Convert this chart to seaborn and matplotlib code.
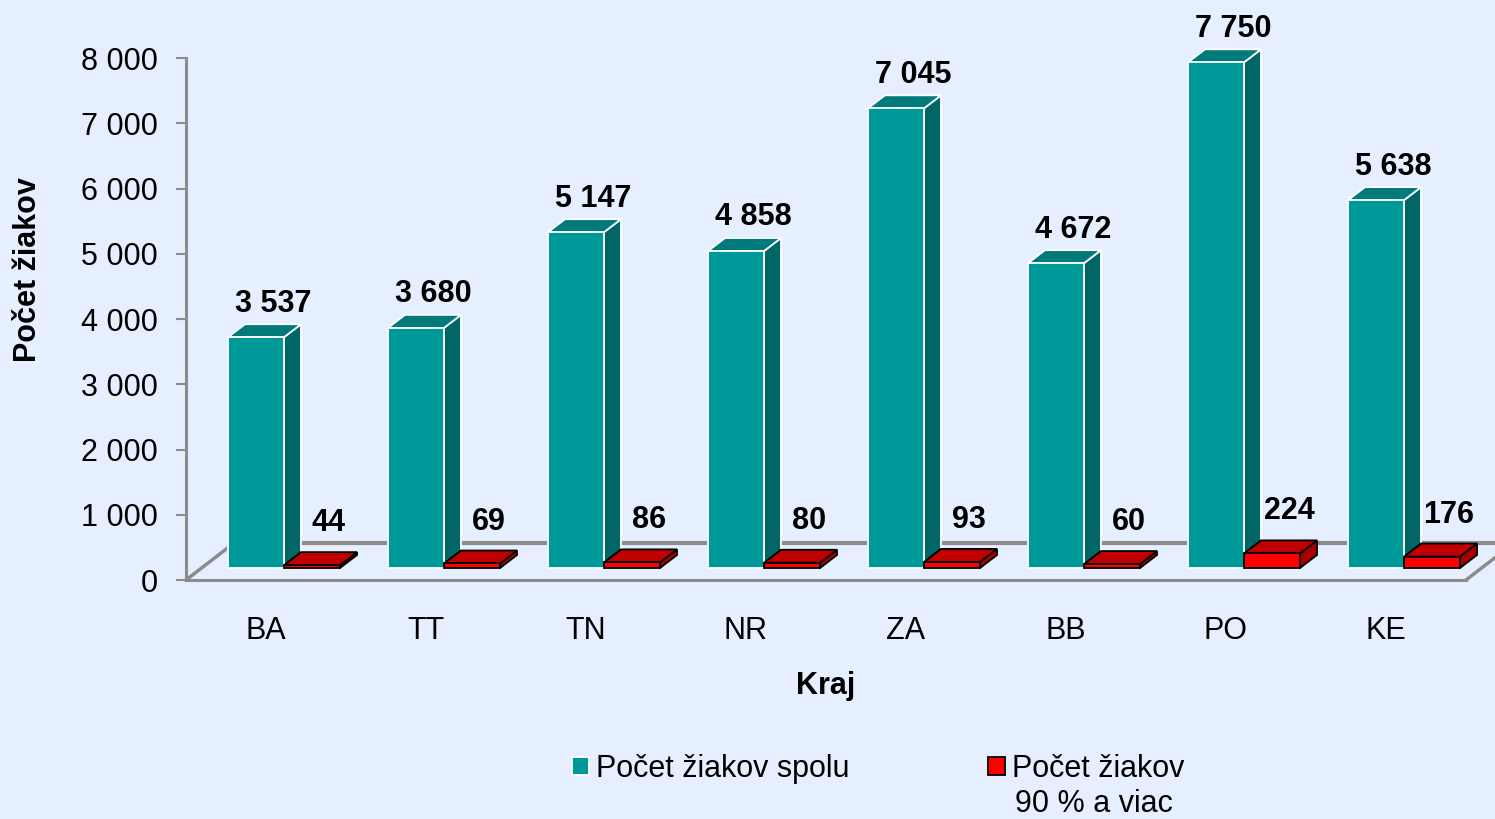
import numpy as np
import pandas as pd
import matplotlib.pyplot as plt
import seaborn as sns
from matplotlib.patches import Polygon, Patch
from matplotlib.transforms import ScaledTranslation
from matplotlib.ticker import FuncFormatter, MultipleLocator

# Údaje
kraje = ["BA", "TT", "TN", "NR", "ZA", "BB", "PO", "KE"]
spolu = [3537, 3680, 5147, 4858, 7045, 4672, 7750, 5638]
viac90 = [44, 69, 86, 80, 93, 60, 224, 176]
serie = ["Počet žiakov spolu", "Počet žiakov\n90 % a viac"]

df = pd.DataFrame({
    "Kraj": kraje * 2,
    "Pocet": spolu + viac90,
    "Seria": [serie[0]] * len(kraje) + [serie[1]] * len(kraje),
})

BG = "#E6EFFF"
GRAY = "#8C8C8C"
front = ["#009999", "#FF0000"]
top = ["#007A7A", "#C00000"]
side = ["#006666", "#A80000"]
edge = ["white", "black"]
FS = 22


def fmt(v, pos=None):
    return f"{int(v):,}".replace(",", " ")


sns.set_theme(style="white")
plt.rcParams["font.family"] = ["Liberation Sans", "DejaVu Sans"]
plt.rcParams["text.color"] = "black"

W, H, DPI = 1495, 819, 100
fig = plt.figure(figsize=(W / DPI, H / DPI), dpi=DPI, facecolor=BG)
# predná rovina 3D krabice v pixeloch
x0p, x1p, y0p, y1p = 186, 1466, 580, 58
ax = fig.add_axes([x0p / W, 1 - y0p / H, (x1p - x0p) / W, (y0p - y1p) / H])
ax.set_facecolor("none")

sns.barplot(data=df, x="Kraj", y="Pocet", hue="Seria", palette=front,
            saturation=1, width=0.7, legend=False, ax=ax)
ax.set_xlim(-0.5, len(kraje) - 0.5)
ax.set_ylim(0, 8000)

xppu = (x1p - x0p) / len(kraje)
yppu = (y0p - y1p) / 8000
shift = ax.transData + ScaledTranslation(18 / DPI, 12 / DPI, fig.dpi_scale_trans)
dx, dy = 17 / xppu, 13 / yppu

# 3D steny stĺpcov
for k, cont in enumerate(ax.containers):
    for bar in cont:
        bx, bw, bh = bar.get_x(), bar.get_width(), bar.get_height()
        bar.set_transform(shift)
        bar.set_clip_on(False)
        bar.set_edgecolor(edge[k])
        bar.set_linewidth(1.3)
        bar.set_zorder(3 + 2 * k)
        tf = Polygon([(bx, bh), (bx + bw, bh), (bx + bw + dx, bh + dy), (bx + dx, bh + dy)],
                     closed=True, fc=top[k], ec=edge[k], lw=1.3, transform=shift,
                     clip_on=False, zorder=2 + 2 * k)
        sf = Polygon([(bx + bw, 0), (bx + bw + dx, dy), (bx + bw + dx, bh + dy), (bx + bw, bh)],
                     closed=True, fc=side[k], ec=edge[k], lw=1.3, transform=shift,
                     clip_on=False, zorder=2 + 2 * k)
        ax.add_patch(sf)
        ax.add_patch(tf)

# hodnoty nad stĺpcami
for k, (cont, vals) in enumerate(zip(ax.containers, [spolu, viac90])):
    for bar, v in zip(cont, vals):
        cx = bar.get_x() + bar.get_width() / 2 + dx
        ax.annotate(fmt(v), (cx, bar.get_height() + dy), xycoords=shift,
                    xytext=(0, [4, 10][k]), textcoords="offset points",
                    ha="center", va="bottom", fontsize=FS, fontweight="bold",
                    color="black", annotation_clip=False, zorder=10)

# podlaha
fx, fy = 48 / xppu, 37 / yppu
lo, hi = -0.5, len(kraje) - 0.5
ax.plot([lo, lo + fx], [0, fy], color=GRAY, lw=2.5, clip_on=False, zorder=1)
ax.plot([lo + fx, hi + fx], [fy, fy], color=GRAY, lw=3, clip_on=False, zorder=1)
ax.plot([hi, hi + fx], [0, fy], color=GRAY, lw=2.5, clip_on=False, zorder=1)

for s in ["top", "right"]:
    ax.spines[s].set_visible(False)
for s in ["left", "bottom"]:
    ax.spines[s].set_color(GRAY)
    ax.spines[s].set_linewidth(2.2)

ax.yaxis.set_major_locator(MultipleLocator(1000))
ax.yaxis.set_major_formatter(FuncFormatter(fmt))
ax.tick_params(axis="y", direction="out", length=7, width=1.5, color=GRAY,
               pad=13, labelsize=FS, labelcolor="black", left=True)
ax.tick_params(axis="x", length=0, pad=26, labelsize=FS, labelcolor="black")
ax.set_xlabel("")
ax.set_ylabel("")

fig.text(28 / W, 1 - 270 / H, "Počet žiakov", rotation=90, fontsize=FS,
         fontweight="bold", ha="center", va="center")
fig.text(826 / W, 1 - 686 / H, "Kraj", fontsize=FS, fontweight="bold",
         ha="center", va="center")

# legenda: dva samostatné záznamy, druhý s dvojriadkovým popisom
leg_x = [572, 988]
for k in range(2):
    lines = serie[k].split("\n")
    h = Patch(fc=front[k], ec=edge[k], lw=1.3)
    lg = fig.legend([h], [lines[0]], loc="center left",
                    bbox_to_anchor=(leg_x[k] / W, 1 - 769 / H), frameon=False,
                    fontsize=FS, handlelength=0.55, handleheight=0.55,
                    handletextpad=0.25, borderpad=0, borderaxespad=0)
    for extra in lines[1:]:
        fig.text((leg_x[k] + 27) / W, 1 - 804 / H, extra, fontsize=FS,
                 ha="left", va="center")

fig.savefig("out.png", dpi=DPI, facecolor=BG)
